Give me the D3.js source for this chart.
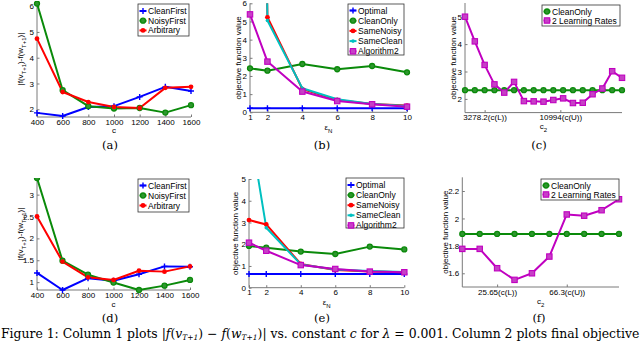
<!DOCTYPE html>
<html lang="en">
<head>
<meta charset="UTF-8">
<title>Figure 1</title>
<script src="https://cdn.jsdelivr.net/npm/d3@7"></script>
<style>
    html, body { margin: 0; padding: 0; background: #fff; overflow: hidden; }
    svg { display: block; }
    .tick text { font-family: "Liberation Sans", Arial, sans-serif; font-size: 8px; fill: #000; }
    .lab { font-family: "Liberation Sans", Arial, sans-serif; font-size: 8px; fill: #000; }
    .leg { font-family: "Liberation Sans", Arial, sans-serif; font-size: 8.5px; fill: #000; }
    .cap { font-family: "DejaVu Serif", "Liberation Serif", serif; font-size: 11.5px; fill: #000; }
    .figcap { font-size: 12.4px; }
</style>
</head>
<body>
<div id="chart"></div>
<script>
    // ---- data ----
    // column 1: |f(v)-f(w)| vs c
    const cValues = [400, 600, 800, 1000, 1200, 1400, 1600];
    const aCleanFirst = [1.86, 1.74, 2.09, 2.12, 2.48, 2.87, 2.71];
    const aNoisyFirst = [6.10, 2.74, 2.12, 2.03, 2.05, 1.87, 2.16];
    const aArbitrary = [4.74, 2.67, 2.28, 2.09, 2.05, 2.83, 2.87];
    const dCleanFirst = [1.21, 0.82, 1.09, 1.03, 1.18, 1.36, 1.35];
    const dNoisyFirst = [3.38, 1.49, 1.17, 0.99, 0.82, 0.92, 1.05];
    const dArbitrary = [2.50, 1.47, 1.11, 1.05, 1.26, 1.24, 1.36];

    // column 2: objective vs eps_N
    const epsValues = [1, 2, 4, 6, 8, 10];
    const bOptimal = [0.22, 0.22, 0.22, 0.22, 0.22, 0.22];
    const bCleanOnly = [2.42, 2.29, 2.66, 2.37, 2.55, 2.20];
    const bSameNoisy = [60, 5.23, 1.28, 0.68, 0.46, 0.37];
    const bSameClean = [70, 5.05, 1.32, 0.72, 0.46, 0.35];
    const bAlgorithm2 = [5.39, 2.79, 1.14, 0.62, 0.44, 0.31];
    const eOptimal = [0.63, 0.63, 0.63, 0.63, 0.63, 0.63];
    const eCleanOnly = [1.92, 1.84, 1.66, 1.55, 1.89, 1.76];
    const eSameNoisy = [3.11, 2.91, 1.09, 0.81, 0.74, 0.71];
    const eSameClean = [7.6, 2.76, 1.07, 0.84, 0.77, 0.72];
    const eAlgorithm2 = [2.07, 1.70, 1.04, 0.86, 0.74, 0.71];

    // column 3: objective vs c2
    const cC2 = [1278.2, 2278.2, 3278.2, 4278.2, 5278.2, 6278.2, 7278.2, 8278.2, 9278.2,
        10278.2, 11278.2, 12278.2, 13278.2, 14278.2, 15278.2, 16278.2, 17278.2];
    const cCleanOnly = [2.32, 2.32, 2.32, 2.32, 2.32, 2.32, 2.32, 2.32, 2.32,
        2.32, 2.32, 2.32, 2.32, 2.32, 2.32, 2.32, 2.32];
    const cTwoRates = [5.0, 4.1, 3.24, 2.53, 2.23, 2.62, 1.92, 1.91, 1.90,
        1.96, 2.02, 1.85, 1.86, 2.17, 2.38, 3.01, 2.77];
    const cTicks = [3278.2, 10994];
    const cTickLabels = ['3278.2(c(L))', '10994(c(U))'];
    const fC2 = [5.33, 15.49, 25.65, 35.81, 45.98, 56.14, 66.3, 76.46, 86.63, 96.79];
    const fCleanOnly = [1.887, 1.887, 1.887, 1.887, 1.887, 1.887, 1.887, 1.887, 1.887, 1.887];
    const fTwoRates = [1.778, 1.778, 1.637, 1.552, 1.600, 1.722, 2.029, 2.020, 2.060, 2.140];
    const fTicks = [25.65, 66.3];
    const fTickLabels = ['25.65(c(L))', '66.3(c(U))'];

    const colors = {blue: '#0000ff', green: '#0a8a0a', red: '#ff0000', cyan: '#00c0c0', magenta: '#c000c0'};

    const width = 640, height = 343;
    const svg = d3.select('#chart').append('svg').attr('width', width).attr('height', height);

    let clipId = 0;

    function drawMarker(g, type, color, px, py) {
        if (type === 'plus') {
            g.append('path').attr('d', `M${px - 3},${py}H${px + 3}M${px},${py - 3}V${py + 3}`)
                .attr('stroke', color).attr('stroke-width', 1.4);
        } else if (type === 'circle') {
            g.append('circle').attr('cx', px).attr('cy', py).attr('r', 2.5)
                .attr('fill', '#2f962f').attr('stroke', color).attr('stroke-width', 1.3);
        } else if (type === 'dot') {
            g.append('circle').attr('cx', px).attr('cy', py).attr('r', 2.4).attr('fill', color);
        } else if (type === 'small') {
            g.append('circle').attr('cx', px).attr('cy', py).attr('r', 1.8).attr('fill', color);
        } else if (type === 'square') {
            g.append('rect').attr('x', px - 2.7).attr('y', py - 2.7).attr('width', 5.4).attr('height', 5.4)
                .attr('fill', '#c640c6').attr('stroke', color).attr('stroke-width', 1.1);
        }
    }

    function panel(cfg) {
        const x = d3.scaleLinear().domain(cfg.xDomain).range([cfg.left, cfg.right]);
        const y = d3.scaleLinear().domain(cfg.yDomain).range([cfg.bottom, cfg.top]);
        const g = svg.append('g');

        // axes (left + bottom only, ticks pointing inward)
        const xAxis = d3.axisBottom(x).tickValues(cfg.xTicks).tickSizeInner(-2.5).tickSizeOuter(0).tickPadding(2);
        if (cfg.xTickLabels) xAxis.tickFormat((d, i) => cfg.xTickLabels[i]);
        else xAxis.tickFormat(d3.format('d'));
        const yAxis = d3.axisLeft(y).tickValues(cfg.yTicks).tickSizeInner(-2.5).tickSizeOuter(0).tickPadding(3)
            .tickFormat(cfg.yFormat || (d => d));

        const gx = g.append('g').attr('transform', `translate(0,${cfg.bottom})`).call(xAxis);
        const gy = g.append('g').attr('transform', `translate(${cfg.left},0)`).call(yAxis);
        [gx, gy].forEach(a => {
            a.select('.domain').attr('stroke', '#7a7a7a').attr('stroke-width', 1);
            a.selectAll('.tick line').attr('stroke', '#7a7a7a');
            a.attr('font-family', null).attr('font-size', null);
        });
        gy.select('.domain').attr('d', `M0,${cfg.bottom}V${cfg.top}`);
        gx.select('.domain').attr('d', `M${cfg.left},0H${cfg.right}`);

        // clip for lines that run off the top
        const id = 'clip' + (clipId++);
        svg.append('clipPath').attr('id', id).append('rect')
            .attr('x', cfg.left - 5).attr('y', cfg.top).attr('width', cfg.right - cfg.left + 10)
            .attr('height', cfg.bottom - cfg.top + 5);
        const plot = g.append('g').attr('clip-path', `url(#${id})`);

        const line = d3.line().x((d, i) => x(cfg.xs[i])).y(d => y(d));
        cfg.series.forEach(s => {
            plot.append('path').attr('d', line(s.values)).attr('fill', 'none')
                .attr('stroke', s.color).attr('stroke-width', 2).attr('stroke-linejoin', 'round');
        });
        cfg.series.forEach(s => {
            s.values.forEach((v, i) => drawMarker(plot, s.marker, s.color, x(cfg.xs[i]), y(v)));
        });

        // y label
        const yl = g.append('text').attr('class', 'lab').attr('text-anchor', 'middle')
            .attr('transform', `translate(${cfg.yLabelX},${(cfg.top + cfg.bottom) / 2}) rotate(-90)`);
        cfg.yLabel.forEach(p => {
            const t = yl.append('tspan').text(p.t);
            if (p.sub) t.attr('font-size', '6px').attr('baseline-shift', 'sub');
        });
        // x label
        const xl = g.append('text').attr('class', 'lab').attr('text-anchor', 'middle')
            .attr('x', (cfg.left + cfg.right) / 2).attr('y', cfg.xLabelY);
        cfg.xLabel.forEach(p => {
            const t = xl.append('tspan').text(p.t);
            if (p.sub) t.attr('font-size', '6px').attr('baseline-shift', 'sub');
        });

        // legend
        const L = cfg.legend;
        g.append('rect').attr('x', L.x).attr('y', L.y).attr('width', L.w).attr('height', L.h)
            .attr('fill', '#fff').attr('stroke', '#333').attr('stroke-width', 0.8);
        cfg.series.forEach((s, i) => {
            const ry = L.y + L.pad + i * L.step;
            g.append('line').attr('x1', L.x + 1.5).attr('x2', L.x + 8.5).attr('y1', ry).attr('y2', ry)
                .attr('stroke', s.color).attr('stroke-width', 2);
            drawMarker(g, s.marker, s.color, L.x + 5, ry);
            g.append('text').attr('class', 'leg').attr('x', L.x + 10).attr('y', ry + 3).text(s.name);
        });

        // sub-caption
        g.append('text').attr('class', 'cap').attr('text-anchor', 'middle')
            .attr('x', cfg.capX).attr('y', cfg.capY).text(cfg.cap);
    }

    const fLabel = [{t: '|f(v'}, {t: 'T+1', sub: true}, {t: ')-f(w'}, {t: 'T+1', sub: true}, {t: ')|'}];
    const objLabel = [{t: 'objective function value'}];
    const epsLabel = [{t: 'ε'}, {t: 'N', sub: true}];
    const c2Label = [{t: 'c'}, {t: '2', sub: true}];

    const col1 = (s) => [
        {name: 'CleanFirst', color: colors.blue, marker: 'plus', values: s[0]},
        {name: 'NoisyFirst', color: colors.green, marker: 'circle', values: s[1]},
        {name: 'Arbitrary', color: colors.red, marker: 'dot', values: s[2]}
    ];
    const col2 = (s) => [
        {name: 'Optimal', color: colors.blue, marker: 'plus', values: s[0]},
        {name: 'CleanOnly', color: colors.green, marker: 'circle', values: s[1]},
        {name: 'SameNoisy', color: colors.red, marker: 'dot', values: s[2]},
        {name: 'SameClean', color: colors.cyan, marker: 'small', values: s[3]},
        {name: 'Algorithm2', color: colors.magenta, marker: 'square', values: s[4]}
    ];
    const col3 = (s) => [
        {name: 'CleanOnly', color: colors.green, marker: 'circle', values: s[0]},
        {name: '2 Learning Rates', color: colors.magenta, marker: 'square', values: s[1]}
    ];

    panel({
        left: 37, right: 191, top: 1, bottom: 117, xDomain: [400, 1600], yDomain: [1.7, 6.2],
        xs: cValues, xTicks: cValues, yTicks: [2, 3, 4, 5, 6],
        series: col1([aCleanFirst, aNoisyFirst, aArbitrary]),
        yLabel: fLabel, yLabelX: 23, xLabel: [{t: 'c'}], xLabelY: 133,
        legend: {x: 138, y: 4, w: 51, h: 32, pad: 7, step: 9.7},
        cap: '(a)', capX: 110, capY: 149
    });
    panel({
        left: 250, right: 407, top: 3.3, bottom: 112.3, xDomain: [1, 10], yDomain: [0, 6],
        xs: epsValues, xTicks: [1, 2, 4, 6, 8, 10], yTicks: [0, 1, 2, 3, 4, 5, 6],
        series: col2([bOptimal, bCleanOnly, bSameNoisy, bSameClean, bAlgorithm2]),
        yLabel: objLabel, yLabelX: 241, xLabel: epsLabel, xLabelY: 130,
        legend: {x: 348, y: 4, w: 56, h: 51, pad: 6.5, step: 10.2},
        cap: '(b)', capX: 322, capY: 149
    });
    panel({
        left: 465, right: 622, top: 3, bottom: 112.6, xDomain: [1278.2, 17278.2], yDomain: [1.5, 5.5],
        xs: cC2, xTicks: cTicks, xTickLabels: cTickLabels, yTicks: [2, 3, 4, 5],
        series: col3([cCleanOnly, cTwoRates]),
        yLabel: objLabel, yLabelX: 456, xLabel: c2Label, xLabelY: 129,
        legend: {x: 542, y: 5, w: 78, h: 21, pad: 6.5, step: 9},
        cap: '(c)', capX: 539, capY: 149
    });
    panel({
        left: 37, right: 190, top: 178, bottom: 290, xDomain: [400, 1600], yDomain: [0.82, 3.38],
        xs: cValues, xTicks: cValues, yTicks: [1, 1.5, 2, 2.5, 3],
        series: col1([dCleanFirst, dNoisyFirst, dArbitrary]),
        yLabel: fLabel, yLabelX: 23, xLabel: [{t: 'c'}], xLabelY: 306.5,
        legend: {x: 138, y: 179, w: 51, h: 33, pad: 6.5, step: 10},
        cap: '(d)', capX: 110, capY: 322
    });
    panel({
        left: 249, right: 404.3, top: 179, bottom: 287.7, xDomain: [1, 10], yDomain: [0, 5],
        xs: epsValues, xTicks: [1, 2, 4, 6, 8, 10], yTicks: [0, 1, 2, 3, 4, 5],
        series: col2([eOptimal, eCleanOnly, eSameNoisy, eSameClean, eAlgorithm2]),
        yLabel: objLabel, yLabelX: 238, xLabel: epsLabel, xLabelY: 305,
        legend: {x: 346, y: 178, w: 58, h: 50, pad: 7, step: 10.1},
        cap: '(e)', capX: 322, capY: 322
    });
    panel({
        left: 462.3, right: 619, top: 177.3, bottom: 287, xDomain: [5.33, 96.79], yDomain: [1.5, 2.3],
        xs: fC2, xTicks: fTicks, xTickLabels: fTickLabels, yTicks: [1.6, 1.8, 2, 2.2],
        yFormat: d3.format('.1~f'),
        series: col3([fCleanOnly, fTwoRates]),
        yLabel: objLabel, yLabelX: 448, xLabel: c2Label, xLabelY: 304,
        legend: {x: 541, y: 179, w: 78, h: 21, pad: 6.5, step: 9},
        cap: '(f)', capX: 539, capY: 322
    });

    // figure caption (runs off the right edge as in the original)
    const cap = svg.append('text').attr('class', 'cap figcap').attr('x', 1).attr('y', 338);
    cap.append('tspan').text('Figure 1:  Column 1 plots |');
    cap.append('tspan').attr('font-style', 'italic').text('f');
    cap.append('tspan').text('(');
    cap.append('tspan').attr('font-style', 'italic').text('v');
    cap.append('tspan').attr('font-size', '7.5px').attr('font-style', 'italic').attr('dy', 2).text('T+1');
    cap.append('tspan').attr('dy', -2).text(') − ');
    cap.append('tspan').attr('font-style', 'italic').text('f');
    cap.append('tspan').text('(');
    cap.append('tspan').attr('font-style', 'italic').text('w');
    cap.append('tspan').attr('font-size', '7.5px').attr('font-style', 'italic').attr('dy', 2).text('T+1');
    cap.append('tspan').attr('dy', -2).text(')| vs.  constant ');
    cap.append('tspan').attr('font-style', 'italic').text('c');
    cap.append('tspan').text(' for ');
    cap.append('tspan').attr('font-style', 'italic').text('λ');
    cap.append('tspan').text(' = 0.001.  Column 2 plots final objective');
</script>
</body>
</html>
